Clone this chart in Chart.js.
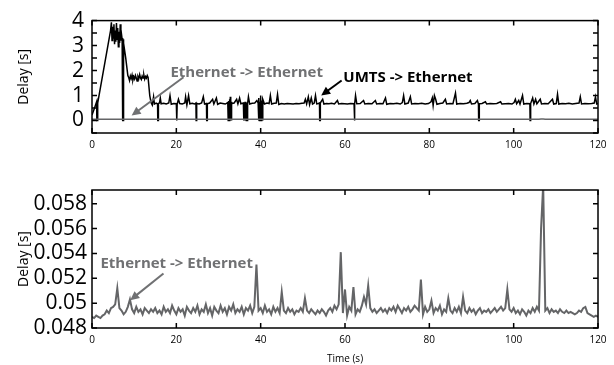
<!DOCTYPE html>
<html>
<head>
<meta charset="utf-8">
<script src="https://cdn.jsdelivr.net/npm/chart.js@4.4.1/dist/chart.umd.min.js"></script>
<style>
  html, body { margin: 0; padding: 0; background: #fff; }
  #wrap { position: relative; width: 614px; height: 365px; }
  .panel { position: absolute; left: 0; width: 614px; }
  #top-panel { top: 0; height: 165px; }
  #bottom-panel { top: 165px; height: 200px; }
</style>
</head>
<body>
<div id="wrap">
  <div class="panel" id="top-panel"><canvas id="umts-chart"></canvas></div>
  <div class="panel" id="bottom-panel"><canvas id="eth-chart"></canvas></div>
</div>
<script>
// Tick values
const timeTicks = [0, 20, 40, 60, 80, 100, 120];
const umtsDelayTicks = [0, 1, 2, 3, 4];
const ethDelayTicks = [0.048, 0.05, 0.052, 0.054, 0.056, 0.058];

// UMTS -> Ethernet delay, [time (s), delay (s)]
const umtsSamples = [
  [0, 0.22], [0.6, 0.5], [1.1, 0.75], [1.15, 0], [1.25, 0], [1.35, 0.7],
  [4.4, 3.6], [4.6, 3.93], [4.75, 3.2], [4.9, 3.75], [5.05, 3.3], [5.2, 3.85], [5.35, 3.05],
  [5.5, 3.6], [5.65, 3.15], [5.8, 3.9], [5.95, 3.25], [6.1, 3.7], [6.25, 2.95], [6.4, 3.55],
  [6.55, 3.1], [6.7, 3.85], [6.85, 3.2], [7.0, 3.45], [7.15, 3.25], [7.25, 3.3], [7.3, 0],
  [7.38, 0], [7.42, 3.25], [7.55, 3.1],
  [8.0, 2.5], [8.5, 1.8], [8.7, 1.72], [8.9, 1.6], [9.1, 1.78], [9.3, 1.68], [9.5, 1.82],
  [9.7, 1.62], [9.9, 1.75], [10.1, 1.66], [10.3, 1.8], [10.5, 1.7], [10.7, 1.58], [10.9, 1.76],
  [11.1, 1.68], [11.3, 1.84], [11.5, 1.7], [11.7, 1.64], [11.9, 1.78], [12.1, 1.7], [12.3, 1.82],
  [12.5, 1.66], [12.7, 1.76], [12.9, 1.7], [13.1, 1.8], [13.3, 1.72],
  [13.7, 1.0], [14.0, 0.72], [14.3, 0.62], [14.6, 0.95], [14.8, 0.66], [15.2, 0.7], [15.55, 0.66],
  [15.6, 0], [15.7, 0], [15.75, 0.68], [16.0, 0.7], [16.2, 0.9], [16.4, 0.67], [17.0, 0.69],
  [17.6, 0.66], [18.2, 0.7], [18.5, 1.0], [18.8, 0.65], [19.4, 0.68], [20.0, 0.67], [20.05, 0],
  [20.15, 0], [20.2, 0.66], [20.5, 0.85], [20.8, 0.68], [21.4, 0.66], [22.0, 0.7], [22.2, 0.95],
  [22.5, 0.62], [22.9, 1.0], [23.2, 0.67], [23.8, 0.69], [24.3, 0.66], [24.65, 0.7], [24.7, 0],
  [24.8, 0], [24.85, 0.68], [25.4, 0.66], [26.0, 0.7], [26.4, 0.95], [26.7, 0.66], [27.15, 0.68],
  [27.2, 0], [27.3, 0], [27.35, 0.67], [27.9, 0.7], [28.6, 0.85], [28.9, 0.66], [29.5, 0.9],
  [29.8, 0.65], [30.4, 0.7], [31.0, 0.68], [31.6, 0.66], [32.2, 0.72],
  [32.3, 0], [32.4, 0.78], [32.5, 0], [32.6, 0.85], [32.7, 0], [32.8, 0.95], [32.9, 0],
  [33.0, 0.75], [33.05, 0], [33.15, 0.68],
  [33.7, 0.7], [34.3, 0.85], [34.6, 0.66], [35.0, 0.9], [35.3, 0.67], [35.9, 0.7],
  [36.0, 0], [36.1, 0.72], [36.2, 0], [36.3, 0.75], [36.4, 0], [36.5, 0.7], [36.6, 0],
  [36.7, 0.72], [36.8, 0], [36.9, 0.68],
  [37.1, 0.95], [37.4, 0.66], [38.0, 0.69], [38.6, 0.7], [39.1, 0.8], [39.4, 0.7],
  [39.5, 0], [39.6, 0.9], [39.7, 0], [39.8, 0.75], [39.9, 0], [40.0, 1.0], [40.1, 0],
  [40.2, 0.8], [40.3, 0], [40.4, 0.7], [40.45, 0], [40.55, 0.85],
  [40.9, 0.66], [41.5, 0.7], [42.0, 0.68], [42.3, 1.0], [42.6, 0.66], [43.2, 0.69], [43.7, 0.7],
  [44.0, 1.05], [44.3, 0.64], [44.9, 0.68], [45.6, 0.66], [46.3, 0.68], [47.0, 0.67], [47.7, 0.66],
  [48.4, 0.68], [49.1, 0.67], [49.8, 0.69], [50.3, 0.7], [50.6, 0.85], [50.9, 0.66], [51.3, 0.95],
  [51.6, 0.64], [52.0, 0.9], [52.3, 0.66], [52.7, 0.7], [53.0, 1.0], [53.3, 0.67], [53.7, 0.68],
  [53.95, 0.7], [54.0, 0], [54.1, 0], [54.15, 0.7], [54.4, 0.78], [54.7, 0.85], [55.0, 0.66],
  [55.6, 0.68], [56.2, 0.67], [56.8, 0.69], [57.5, 0.66], [58.2, 0.8], [58.5, 0.66], [59.2, 0.68],
  [59.9, 0.67], [60.6, 0.66], [61.3, 0.68], [62.15, 0.67], [62.2, 0], [62.3, 0], [62.35, 0.66],
  [62.5, 1.0], [62.8, 0.67], [63.6, 0.68], [64.4, 0.8], [64.7, 0.66], [65.5, 0.68], [66.4, 0.67],
  [67.2, 0.8], [67.5, 0.66], [68.3, 0.68], [69.0, 0.67], [69.6, 0.9], [69.9, 0.65], [70.7, 0.68],
  [71.5, 0.67], [72.3, 0.69], [73.1, 0.66], [73.6, 0.72], [73.9, 1.0], [74.2, 0.66], [75.0, 0.7],
  [75.5, 0.95], [75.8, 0.66], [76.6, 0.68], [77.4, 0.67], [78.2, 0.69], [79.0, 0.66], [79.8, 0.68],
  [80.4, 0.75], [80.7, 0.9], [80.9, 0.6], [81.2, 1.0], [81.5, 0.85], [81.8, 0.65], [82.5, 0.68],
  [83.2, 0.7], [83.8, 0.85], [84.1, 0.66], [84.9, 0.68], [85.6, 0.67], [86.2, 1.1], [86.5, 0.66],
  [87.3, 0.68], [88.1, 0.67], [88.9, 0.69], [89.4, 0.72], [89.7, 0.8], [90.0, 0.66], [90.8, 0.68],
  [91.4, 0.8], [91.65, 0.66], [91.7, 0], [91.8, 0], [91.85, 0.67], [92.5, 0.68], [93.3, 0.75],
  [93.6, 0.66], [94.4, 0.68], [95.2, 0.67], [96.0, 0.68], [96.9, 0.75], [97.2, 0.66], [98.0, 0.67],
  [98.8, 0.68], [99.6, 0.66], [100.1, 0.72], [100.4, 0.85], [100.7, 0.67], [101.2, 0.8], [101.5, 0.66],
  [102.1, 1.0], [102.4, 0.66], [103.1, 0.68], [103.85, 0.67], [103.9, 0], [104.0, 0], [104.05, 0.68],
  [104.5, 0.9], [104.8, 0.66], [105.2, 0.85], [105.5, 0.67], [106.3, 0.85], [106.6, 0.66], [107.4, 0.68],
  [108.2, 0.67], [109.2, 0.85], [109.5, 0.66], [110.1, 0.68], [110.4, 1.05], [110.7, 0.66], [111.5, 0.68],
  [112.3, 0.67], [113.1, 0.69], [113.9, 0.66], [114.7, 0.68], [115.5, 0.7], [115.8, 0.95], [116.1, 0.66],
  [116.9, 0.68], [117.7, 0.67], [118.5, 0.68], [119.1, 0.7], [119.4, 0.95], [119.7, 0.66], [120, 0.68]
];

// Ethernet -> Ethernet delay (s), one sample every 0.5 s from t = 0
const ethStep = 0.5;
const ethDelay = [
  0.0489, 0.0488, 0.0490, 0.0489, 0.0488, 0.0490, 0.0491, 0.0494, 0.0492, 0.0496,
  0.0497, 0.0499, 0.0512, 0.0496, 0.0494, 0.0491, 0.0493, 0.0497, 0.0503, 0.0495,
  0.0492, 0.0497, 0.0493, 0.0495, 0.0491, 0.0496, 0.0494, 0.0492, 0.0495, 0.0493,
  0.0496, 0.0492, 0.0494, 0.0491, 0.0497, 0.0493, 0.0495, 0.0492, 0.0498, 0.0494,
  0.0491, 0.0496, 0.0493, 0.0495, 0.0490, 0.0497, 0.0494, 0.0492, 0.0496, 0.0493,
  0.0498, 0.0491, 0.0495, 0.0493, 0.0499, 0.0492, 0.0496, 0.0490, 0.0497, 0.0494,
  0.0492, 0.0498, 0.0493, 0.0496, 0.0491, 0.0497, 0.0494, 0.0499, 0.0492, 0.0495,
  0.0493, 0.0497, 0.0491, 0.0496, 0.0494, 0.0498, 0.0492, 0.0497, 0.0531, 0.0494,
  0.0496, 0.0492, 0.0498, 0.0493, 0.0495, 0.0491, 0.0497, 0.0493, 0.0496, 0.0492,
  0.0509, 0.0494, 0.0492, 0.0496, 0.0493, 0.0495, 0.0491, 0.0494, 0.0493, 0.0496,
  0.0493, 0.0504, 0.0494, 0.0492, 0.0495, 0.0493, 0.0491, 0.0494, 0.0492, 0.0495,
  0.0493, 0.0490, 0.0494, 0.0496, 0.0493, 0.0498, 0.0495, 0.0499, 0.0541, 0.0492,
  0.0511, 0.0490, 0.0497, 0.0494, 0.0513, 0.0491, 0.0495, 0.0493, 0.0498, 0.0505,
  0.0499, 0.0514, 0.0496, 0.0493, 0.0495, 0.0492, 0.0494, 0.0496, 0.0493, 0.0495,
  0.0492, 0.0496, 0.0494, 0.0497, 0.0493, 0.0498, 0.0495, 0.0492, 0.0496, 0.0494,
  0.0497, 0.0493, 0.0495, 0.0498, 0.0496, 0.0494, 0.0519, 0.0491, 0.0497, 0.0493,
  0.0495, 0.0502, 0.0492, 0.0496, 0.0494, 0.0498, 0.0491, 0.0495, 0.0493, 0.0504,
  0.0494, 0.0492, 0.0496, 0.0493, 0.0497, 0.0492, 0.0505, 0.0494, 0.0492, 0.0496,
  0.0493, 0.0495, 0.0491, 0.0494, 0.0496, 0.0492, 0.0494, 0.0493, 0.0495, 0.0492,
  0.0494, 0.0496, 0.0493, 0.0495, 0.0497, 0.0494, 0.0496, 0.0511, 0.0495, 0.0493,
  0.0496, 0.0492, 0.0494, 0.0491, 0.0495, 0.0493, 0.0490, 0.0494, 0.0492, 0.0496,
  0.0493, 0.0497, 0.0494, 0.0560, 0.0595, 0.0494, 0.0496, 0.0492, 0.0495, 0.0493,
  0.0494, 0.0492, 0.0495, 0.0493, 0.0492, 0.0494, 0.0492, 0.0493, 0.0492, 0.0491,
  0.0492, 0.0494, 0.0493, 0.0496, 0.0497, 0.0492, 0.0491, 0.0490, 0.0489, 0.0490,
  0.0489
];

const GRAY_LINE = "#646567";
const GRAY_TEXT = "#707173";
const FONT = "'Open Sans', sans-serif";

Chart.defaults.font.family = FONT;
Chart.defaults.color = "#000";

const umtsPoints = umtsSamples.map(([t, d]) => ({ x: t, y: d }));
const ethPoints = ethDelay.map((d, i) => ({ x: i * ethStep, y: d }));

// Frame around the plot area with inward tick marks on all four sides
const boxTicks = {
  id: "boxTicks",
  afterDraw(chart, args, opts) {
    const { ctx, chartArea: a, scales } = chart;
    const len = 5;
    ctx.save();
    ctx.strokeStyle = "#000";
    ctx.lineWidth = 1.5;
    ctx.beginPath();
    opts.xTicks.forEach((v) => {
      const px = scales.x.getPixelForValue(v);
      ctx.moveTo(px, a.bottom);
      ctx.lineTo(px, a.bottom - len);
      ctx.moveTo(px, a.top);
      ctx.lineTo(px, a.top + len);
    });
    opts.yTicks.forEach((v) => {
      const py = scales.y.getPixelForValue(v);
      ctx.moveTo(a.left, py);
      ctx.lineTo(a.left + len, py);
      ctx.moveTo(a.right, py);
      ctx.lineTo(a.right - len, py);
    });
    ctx.stroke();
    ctx.strokeRect(a.left, a.top, a.width, a.height);
    ctx.restore();
  }
};

function drawArrow(ctx, x1, y1, x2, y2, color) {
  const ang = Math.atan2(y2 - y1, x2 - x1);
  const head = 10;
  ctx.strokeStyle = color;
  ctx.fillStyle = color;
  ctx.lineWidth = 2;
  ctx.beginPath();
  ctx.moveTo(x1, y1);
  ctx.lineTo(x2 - Math.cos(ang) * head * 0.8, y2 - Math.sin(ang) * head * 0.8);
  ctx.stroke();
  ctx.beginPath();
  ctx.moveTo(x2, y2);
  ctx.lineTo(x2 - head * Math.cos(ang - 0.45), y2 - head * Math.sin(ang - 0.45));
  ctx.lineTo(x2 - head * Math.cos(ang + 0.45), y2 - head * Math.sin(ang + 0.45));
  ctx.closePath();
  ctx.fill();
}

// Labelled arrows, placed in data units
const callouts = {
  id: "callouts",
  afterDatasetsDraw(chart, args, opts) {
    const { ctx, scales: { x, y } } = chart;
    opts.items.forEach((c) => {
      ctx.save();
      ctx.font = "bold 15px " + FONT;
      ctx.fillStyle = c.color;
      ctx.textBaseline = "middle";
      ctx.fillText(c.text, x.getPixelForValue(c.at[0]), y.getPixelForValue(c.at[1]));
      drawArrow(ctx,
        x.getPixelForValue(c.from[0]), y.getPixelForValue(c.from[1]),
        x.getPixelForValue(c.to[0]), y.getPixelForValue(c.to[1]), c.color);
      ctx.restore();
    });
  }
};

function timeAxis(height, withTitle) {
  return {
    type: "linear",
    min: 0,
    max: 120,
    afterBuildTicks: (s) => { s.ticks = timeTicks.map((v) => ({ value: v })); },
    afterFit: (s) => { s.height = height; },
    grid: { display: false, drawTicks: false },
    border: { display: false },
    ticks: { font: { size: 10 }, padding: 6, maxRotation: 0, autoSkip: false },
    title: {
      display: withTitle,
      text: "Time (s)",
      font: { size: 10 },
      padding: { top: 2, bottom: 0 }
    }
  };
}

function delayAxis(min, max, ticks, pad, fmt) {
  return {
    min: min,
    max: max,
    afterBuildTicks: (s) => { s.ticks = ticks.map((v) => ({ value: v })); },
    afterFit: (s) => { s.width = 92; },
    grid: { display: false, drawTicks: false },
    border: { display: false },
    ticks: { font: { size: 21 }, padding: pad, callback: fmt, autoSkip: false },
    title: {
      display: true,
      text: "Delay [s]",
      font: { size: 14 },
      padding: { top: 16, bottom: 0 }
    }
  };
}

new Chart(document.getElementById("umts-chart"), {
  type: "line",
  data: {
    datasets: [
      {
        label: "Ethernet -> Ethernet",
        data: ethPoints,
        borderColor: GRAY_LINE,
        borderWidth: 1.5,
        pointRadius: 0
      },
      {
        label: "UMTS -> Ethernet",
        data: umtsPoints,
        borderColor: "#000",
        borderWidth: 1.5,
        pointRadius: 0
      }
    ]
  },
  options: {
    responsive: true,
    maintainAspectRatio: false,
    animation: false,
    layout: { padding: { top: 19, right: 16, left: 0, bottom: 0 } },
    plugins: {
      legend: { display: false },
      tooltip: { enabled: false },
      boxTicks: { xTicks: timeTicks, yTicks: [-0.5, 0, 0.5, 1, 1.5, 2, 2.5, 3, 3.5, 4] },
      callouts: {
        items: [
          { text: "Ethernet -> Ethernet", color: GRAY_TEXT, at: [18.6, 1.92], from: [21.7, 1.73], to: [9.4, 0.2] },
          { text: "UMTS -> Ethernet", color: "#000", at: [59.6, 1.7], from: [59.2, 1.6], to: [54.35, 1.0] }
        ]
      }
    },
    scales: {
      x: timeAxis(32, false),
      y: delayAxis(-0.5, 4, umtsDelayTicks, 8, (v) => String(v))
    }
  },
  plugins: [boxTicks, callouts]
});

new Chart(document.getElementById("eth-chart"), {
  type: "line",
  data: {
    datasets: [
      {
        label: "Ethernet -> Ethernet",
        data: ethPoints,
        borderColor: GRAY_LINE,
        borderWidth: 2,
        pointRadius: 0
      }
    ]
  },
  options: {
    responsive: true,
    maintainAspectRatio: false,
    animation: false,
    layout: { padding: { top: 25, right: 16, left: 0, bottom: 0 } },
    plugins: {
      legend: { display: false },
      tooltip: { enabled: false },
      boxTicks: { xTicks: timeTicks, yTicks: ethDelayTicks },
      callouts: {
        items: [
          { text: "Ethernet -> Ethernet", color: GRAY_TEXT, at: [2.0, 0.0532], from: [16.95, 0.05238], to: [9.06, 0.05024] }
        ]
      }
    },
    scales: {
      x: timeAxis(37, true),
      y: delayAxis(0.048, 0.0591, ethDelayTicks, 5, (v) => String(+v.toFixed(3)))
    }
  },
  plugins: [boxTicks, callouts]
});
</script>
</body>
</html>
